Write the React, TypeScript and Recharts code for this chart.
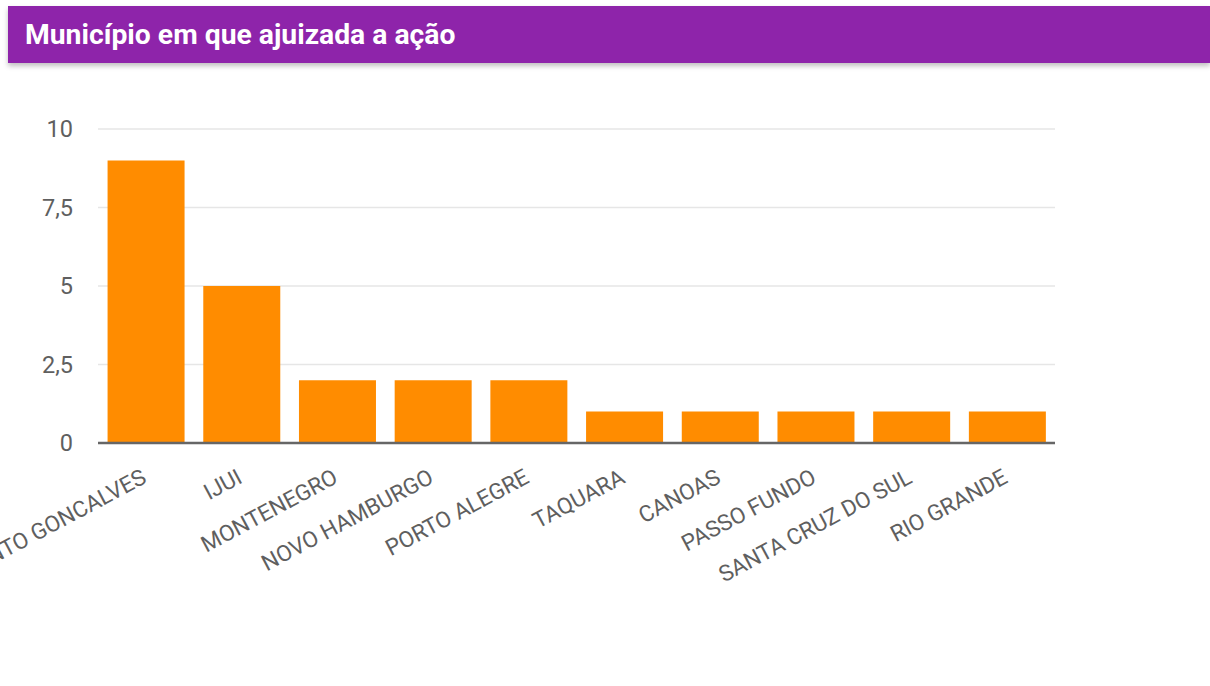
import { Bar, BarChart, CartesianGrid, XAxis, YAxis } from "recharts";

const municipios = [
  "BENTO GONCALVES",
  "IJUI",
  "MONTENEGRO",
  "NOVO HAMBURGO",
  "PORTO ALEGRE",
  "TAQUARA",
  "CANOAS",
  "PASSO FUNDO",
  "SANTA CRUZ DO SUL",
  "RIO GRANDE",
];
const acoes = [9, 5, 2, 2, 2, 1, 1, 1, 1, 1];
const yTicks = [0, 2.5, 5, 7.5, 10];

const data = municipios.map((nome, i) => ({ nome, valor: acoes[i] }));

function SlantedTick({ x, y, payload }: any) {
  return (
    <g transform={`translate(${x + 2},${y + 39})`}>
      <text
        transform="rotate(-28)"
        textAnchor="end"
        fill="#5f5f5f"
        fontSize={22.5}
        fontFamily="Roboto, sans-serif"
      >
        {payload.value}
      </text>
    </g>
  );
}

export default function App() {
  return (
    <div style={{ position: "absolute", left: 0, top: 0, width: 1210, height: 686, background: "#fff" }}>
      <div
        style={{
          position: "absolute",
          left: 8,
          top: 6,
          width: 1202,
          height: 57,
          background: "#8e24aa",
          boxShadow: "0 3px 5px rgba(0,0,0,0.25)",
          color: "#fff",
          fontFamily: "Roboto, sans-serif",
          fontWeight: 700,
          fontSize: 28.3,
          lineHeight: "58px",
          paddingLeft: 17,
          boxSizing: "border-box",
          zIndex: 2,
        }}
      >
        Município em que ajuizada a ação
      </div>
      <div style={{ position: "absolute", left: 0, top: 0 }}>
        <BarChart
          width={1210}
          height={686}
          data={data}
          margin={{ top: 129, right: 155, bottom: 183, left: 0 }}
          barCategoryGap="10%"
        >
          <CartesianGrid vertical={false} stroke="#e6e6e6" strokeWidth={1.5} />
          <XAxis
            dataKey="nome"
            interval={0}
            height={60}
            tickSize={0}
            tickMargin={0}
            tick={<SlantedTick />}
            axisLine={{ stroke: "#666666", strokeWidth: 2.5 }}
            tickLine={false}
          />
          <YAxis
            domain={[0, 10]}
            ticks={yTicks}
            width={98}
            tickSize={0}
            tickMargin={25}
            axisLine={false}
            tickLine={false}
            tickFormatter={(v: number) => String(v).replace(".", ",")}
            tick={{ fill: "#5f5f5f", fontSize: 23.5, fontFamily: "Roboto, sans-serif" }}
          />
          <Bar dataKey="valor" fill="#ff8c00" isAnimationActive={false} />
        </BarChart>
      </div>
    </div>
  );
}
